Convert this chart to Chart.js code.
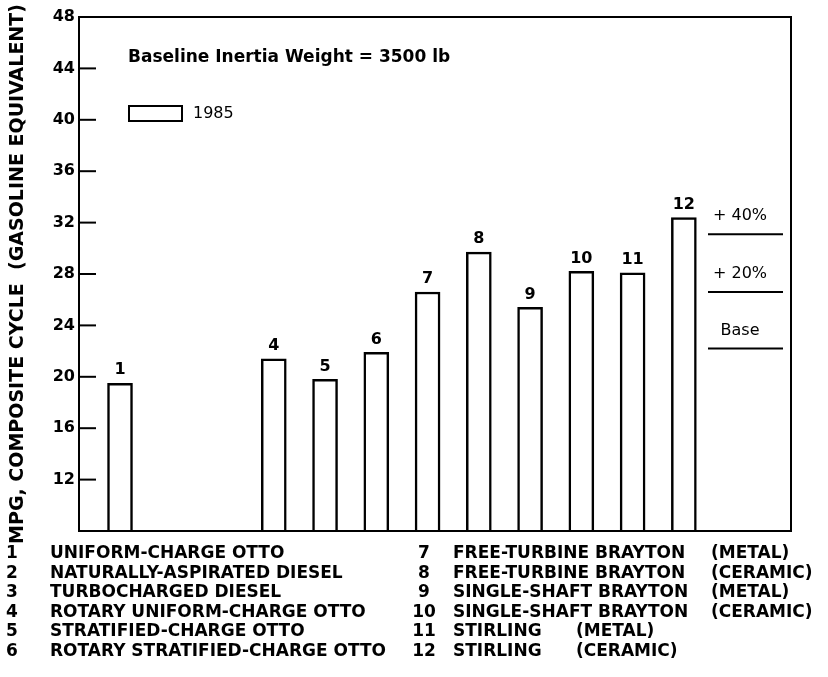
<!DOCTYPE html>
<html lang="en">
<head>
    <meta charset="UTF-8">
    <title>Composite cycle MPG, 1985</title>
    <script src="https://cdn.jsdelivr.net/npm/chart.js@4.4.1/dist/chart.umd.min.js"></script>
    <style>
        body { margin: 0; background: #fff; }
        canvas { display: block; }
    </style>
</head>
<body>
    <canvas id="chart" width="828" height="677"></canvas>
    <script>
    const engineNumbers = ['1', '2', '3', '4', '5', '6', '7', '8', '9', '10', '11', '12']
    const engineNames = [
        'UNIFORM-CHARGE OTTO',
        'NATURALLY-ASPIRATED DIESEL',
        'TURBOCHARGED DIESEL',
        'ROTARY UNIFORM-CHARGE OTTO',
        'STRATIFIED-CHARGE OTTO',
        'ROTARY STRATIFIED-CHARGE OTTO',
        'FREE-TURBINE BRAYTON',
        'FREE-TURBINE BRAYTON',
        'SINGLE-SHAFT BRAYTON',
        'SINGLE-SHAFT BRAYTON',
        'STIRLING',
        'STIRLING'
    ]
    const engineMaterial = ['', '', '', '', '', '', '(METAL)', '(CERAMIC)', '(METAL)', '(CERAMIC)', '(METAL)', '(CERAMIC)']
    // 1985 mpg, engines 2 and 3 have no bar
    const mpg1985 = [19.5, null, null, 21.4, 19.8, 21.9, 26.6, 29.7, 25.4, 28.2, 28.1, 32.4]
    const yTicks = [12, 16, 20, 24, 28, 32, 36, 40, 44, 48]
    const refLevels = [22.2, 26.6, 31.1]
    const refLabels = ['Base', '+ 20%', '+ 40%']
    const noteText = 'Baseline Inertia Weight = 3500 lb'
    const seriesName = '1985'

    const FONT = '"DejaVu Sans", sans-serif'

    const extras = {
        id: 'extras',
        afterDraw(chart) {
            const ctx = chart.ctx
            const a = chart.chartArea
            const ys = chart.scales.y
            ctx.save()
            ctx.strokeStyle = '#000'
            ctx.fillStyle = '#000'

            // frame
            ctx.lineWidth = 2
            ctx.strokeRect(a.left, a.top, a.right - a.left, a.bottom - a.top)

            // tick marks pointing into the plot
            yTicks.forEach(v => {
                if (v >= ys.max) return
                const y = ys.getPixelForValue(v)
                ctx.beginPath()
                ctx.moveTo(a.left, y)
                ctx.lineTo(a.left + 17, y)
                ctx.stroke()
            })

            // numbers over the bars
            ctx.font = 'bold 16px ' + FONT
            ctx.textAlign = 'center'
            ctx.textBaseline = 'bottom'
            chart.getDatasetMeta(0).data.forEach((bar, i) => {
                const d = chart.data.datasets[0].data[i]
                if (d.y == null) return
                ctx.fillText(engineNumbers[d.x - 1], bar.x, bar.y - 5)
            })

            // note and legend box
            ctx.textAlign = 'left'
            ctx.textBaseline = 'middle'
            ctx.font = 'bold 17px ' + FONT
            ctx.fillText(noteText, 128, 58)
            ctx.lineWidth = 2
            ctx.strokeRect(129, 106, 53, 15)
            ctx.font = '16px ' + FONT
            ctx.fillText(seriesName, 193, 114)

            // base / +20% / +40% levels
            ctx.textAlign = 'center'
            refLevels.forEach((v, i) => {
                const y = ys.getPixelForValue(v)
                ctx.beginPath()
                ctx.moveTo(a.right - 83, y)
                ctx.lineTo(a.right - 8, y)
                ctx.stroke()
                ctx.fillText(refLabels[i], a.right - 51, y - 18)
            })

            // key below the chart
            ctx.font = 'bold 17px ' + FONT
            ctx.textBaseline = 'middle'
            engineNames.forEach((name, i) => {
                const col = i < 6 ? 0 : 1
                const y = 554 + (i % 6) * 19.5
                const nx = col ? 424 : 12
                const tx = col ? 453 : 50
                ctx.textAlign = 'center'
                ctx.fillText(engineNumbers[i], nx, y)
                ctx.textAlign = 'left'
                ctx.fillText(name, tx, y)
                if (engineMaterial[i]) {
                    ctx.fillText(engineMaterial[i], i >= 10 ? 576 : 711, y)
                }
            })
            ctx.restore()
        }
    }

    const points = mpg1985.map((v, i) => ({ x: i + 1, y: v }))

    const ctx = document.getElementById('chart').getContext('2d')
    const myChart = new Chart(ctx, {
        type: 'bar',
        data: {
            datasets: [{
                label: seriesName,
                data: points,
                backgroundColor: '#fff',
                borderColor: '#000',
                borderWidth: 2.5,
                barThickness: 25
            }]
        },
        options: {
            responsive: false,
            animation: false,
            layout: { padding: { left: 0, top: 17, right: 37, bottom: 0 } },
            plugins: {
                legend: { display: false },
                tooltip: { enabled: false }
            },
            scales: {
                x: {
                    type: 'linear',
                    offset: false,
                    min: 0.2,
                    max: 14.09,
                    grid: { display: false, drawTicks: false },
                    border: { display: false },
                    ticks: { display: false },
                    afterFit(scale) { scale.height = 677 - 531 }
                },
                y: {
                    min: 8,
                    max: 48,
                    grid: { display: false, drawTicks: false },
                    border: { display: false },
                    ticks: {
                        stepSize: 4,
                        padding: 4,
                        color: '#000',
                        font: { family: FONT, size: 16, weight: 'bold' },
                        callback: v => (yTicks.includes(v) ? v : '')
                    },
                    title: {
                        display: true,
                        text: 'MPG, COMPOSITE CYCLE  (GASOLINE EQUIVALENT)',
                        color: '#000',
                        font: { family: FONT, size: 19, weight: 'bold' },
                        padding: { top: 7, bottom: 0 }
                    },
                    afterFit(scale) { scale.width = 79 }
                }
            }
        },
        plugins: [extras]
    })
    </script>
</body>
</html>
